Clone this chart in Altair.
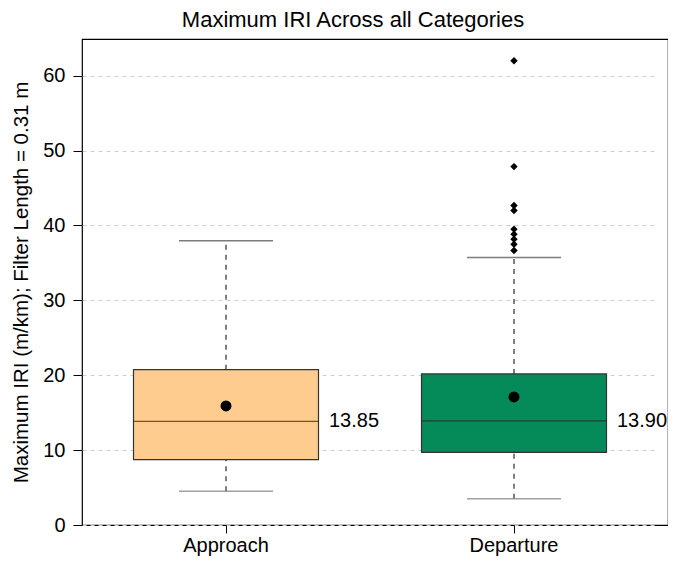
import altair as alt
import pandas as pd

categories = ["Approach", "Departure"]
colors = ["#FFCC90", "#058A5A"]
whisker_low = [4.5, 3.5]
q1 = [8.74, 9.71]
median = [13.85, 13.90]
q3 = [20.74, 20.17]
whisker_high = [37.95, 35.72]
means = [15.9, 17.1]
outlier_cat = ["Departure"] * 9
outlier_val = [62.0, 47.86, 42.66, 41.99, 39.51, 38.84, 38.17, 37.5, 36.65]

boxes = pd.DataFrame({
    "cat": categories,
    "lo": whisker_low,
    "q1": q1,
    "med": median,
    "q3": q3,
    "hi": whisker_high,
    "mean": means,
    "label": [f"{m:.2f}" for m in median],
})
outliers = pd.DataFrame({"cat": outlier_cat, "val": outlier_val})

FONT = "Liberation Sans"
xscale = alt.Scale(domain=categories, range=[0, 576], paddingInner=0, paddingOuter=0)
yscale = alt.Scale(domain=[0, 64.9], nice=False, zero=False)
x = alt.X("cat:N", scale=xscale, sort=categories,
          axis=alt.Axis(title=None, labelAngle=0, labelFontSize=20, labelPadding=2,
                        tickSize=8, tickColor="black", domain=False, labelColor="black",
                        labelFont=FONT))
yaxis = alt.Axis(title="Maximum IRI (m/km); Filter Length = 0.31 m", values=[0, 10, 20, 30, 40, 50, 60],
                 titleFontSize=20.5, titleFontWeight="normal", titleColor="black", titleFont=FONT,
                 labelFontSize=20, labelColor="black", labelFont=FONT, tickSize=9,
                 tickColor="black", domain=False, grid=True, gridDash=[4, 4], gridColor="#d9c8cc",
                 titlePadding=11, labelPadding=8)

base = alt.Chart(boxes)

whisk_up = base.mark_rule(strokeDash=[5, 5], strokeWidth=1.5, color="#555555").encode(
    x=x, y=alt.Y("q3:Q", scale=yscale, axis=yaxis), y2="hi:Q")
whisk_dn = base.mark_rule(strokeDash=[5, 5], strokeWidth=1.5, color="#555555").encode(
    x=x, y=alt.Y("lo:Q", scale=yscale), y2="q1:Q")
cap_hi = base.mark_tick(size=94, thickness=1.5, color="#444444").encode(
    x=x, y=alt.Y("hi:Q", scale=yscale))
cap_lo = base.mark_tick(size=94, thickness=1.5, color="#777777").encode(
    x=x, y=alt.Y("lo:Q", scale=yscale))
box = base.mark_bar(size=185, stroke="#333333", strokeWidth=1.2).encode(
    x=x, y=alt.Y("q1:Q", scale=yscale), y2="q3:Q",
    color=alt.Color("cat:N", scale=alt.Scale(domain=categories, range=colors), legend=None))
med = base.mark_tick(size=185, thickness=1.3, color="#222222").encode(
    x=x, y=alt.Y("med:Q", scale=yscale))
mean_pt = base.mark_point(shape="circle", filled=True, size=120, color="black", opacity=1).encode(
    x=x, y=alt.Y("mean:Q", scale=yscale))
lbl = base.mark_text(align="left", baseline="middle", dx=103, fontSize=20, color="black",
                     font=FONT).encode(
    x=x, y=alt.Y("med:Q", scale=yscale), text="label:N")
outl = alt.Chart(outliers).mark_point(shape="diamond", filled=True, size=55, color="black", opacity=1).encode(
    x=x, y=alt.Y("val:Q", scale=yscale))

chart = alt.layer(whisk_up, whisk_dn, cap_hi, cap_lo, box, med, mean_pt, lbl, outl).properties(
    width=586, height=486,
    background="white",
    title=alt.TitleParams("Maximum IRI Across all Categories", fontSize=22, fontWeight="normal",
                          font=FONT, color="black", offset=7, dx=-22),
    autosize=alt.AutoSizeParams(type="none"),
    padding={"left": 74, "top": 31, "right": 0, "bottom": 31},
).configure_view(stroke="black", strokeWidth=1.2)

chart.save("out.html", embed_options={"renderer": "svg", "actions": False})
